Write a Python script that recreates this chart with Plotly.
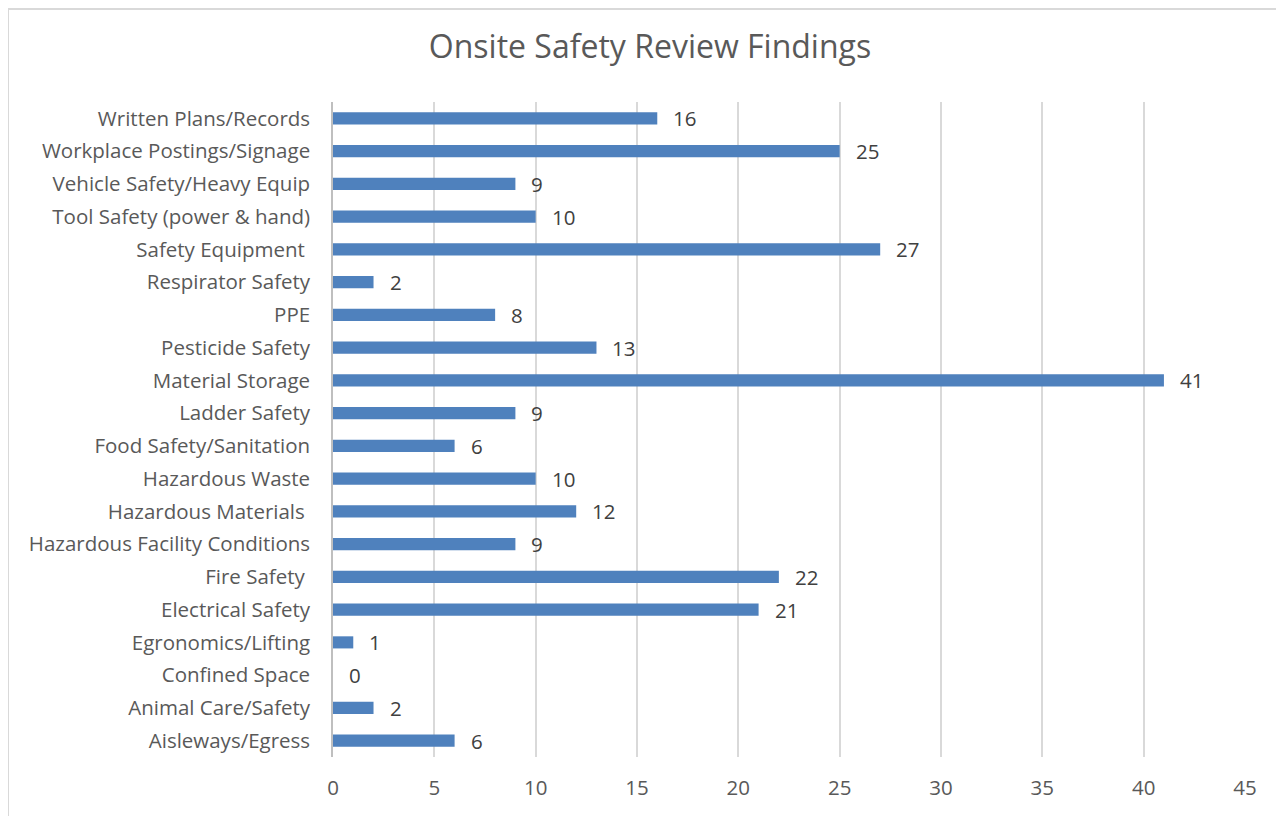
import plotly.graph_objects as go

categories = [
    "Aisleways/Egress", "Animal Care/Safety", "Confined Space", "Egronomics/Lifting",
    "Electrical Safety", "Fire Safety ", "Hazardous Facility Conditions", "Hazardous Materials ",
    "Hazardous Waste", "Food Safety/Sanitation", "Ladder Safety", "Material Storage",
    "Pesticide Safety", "PPE", "Respirator Safety", "Safety Equipment ",
    "Tool Safety (power & hand)", "Vehicle Safety/Heavy Equip", "Workplace Postings/Signage",
    "Written Plans/Records",
]
values = [6, 2, 0, 1, 21, 22, 9, 12, 10, 6, 9, 41, 13, 8, 2, 27, 10, 9, 25, 16]
x_ticks = [0, 5, 10, 15, 20, 25, 30, 35, 40, 45]

FONT = "Open Sans"
TXT = "#595959"
FS = 20.5

fig = go.Figure()
fig.add_trace(go.Bar(
    x=values, y=categories, orientation="h",
    marker=dict(color="#4F81BD", line=dict(width=0)),
    hoverinfo="x+y",
))

annotations = []
for c, v in zip(categories, values):
    annotations.append(dict(
        x=v, y=c, xref="x", yref="y", text=str(v), showarrow=False,
        xanchor="left", yanchor="middle", xshift=14,
        font=dict(family=FONT, size=FS, color="#404040"),
    ))

W, H = 1284, 816
L, R, T, B = 325, 47, 94, 67
pw, ph = W - L - R, H - T - B

fig.update_layout(
    width=W, height=H,
    margin=dict(l=L, r=R, t=T, b=B),
    paper_bgcolor="white", plot_bgcolor="white",
    bargap=0.63,
    showlegend=False,
    title=dict(text="Onsite Safety Review Findings", x=0.5, xanchor="center",
               y=0.952, yanchor="middle",
               font=dict(family=FONT, size=32, color=TXT)),
    font=dict(family=FONT, color=TXT, size=FS),
    annotations=annotations,
    shapes=[dict(type="rect", xref="paper", yref="paper",
                 x0=(0 - L) / pw, x1=(1272 - L) / pw,
                 y0=-0.3, y1=1 + (T - 1) / ph,
                 line=dict(color="#d9d9d9", width=2), fillcolor="rgba(0,0,0,0)",
                 layer="below")],
)
fig.update_xaxes(
    range=[0, 45], tickvals=x_ticks, showgrid=True, gridcolor="#d9d9d9", gridwidth=1.5,
    zeroline=False, showline=False, ticks="", ticklabelstandoff=16,
    tickfont=dict(family=FONT, size=FS, color=TXT), fixedrange=True,
)
fig.update_yaxes(
    type="category", categoryorder="array", categoryarray=categories,
    showgrid=False, zeroline=False, showline=True, linecolor="#bfbfbf", linewidth=1.5,
    ticks="", ticklabelstandoff=17,
    tickfont=dict(family=FONT, size=FS, color=TXT), fixedrange=True,
)

fig.write_html("out.html")
